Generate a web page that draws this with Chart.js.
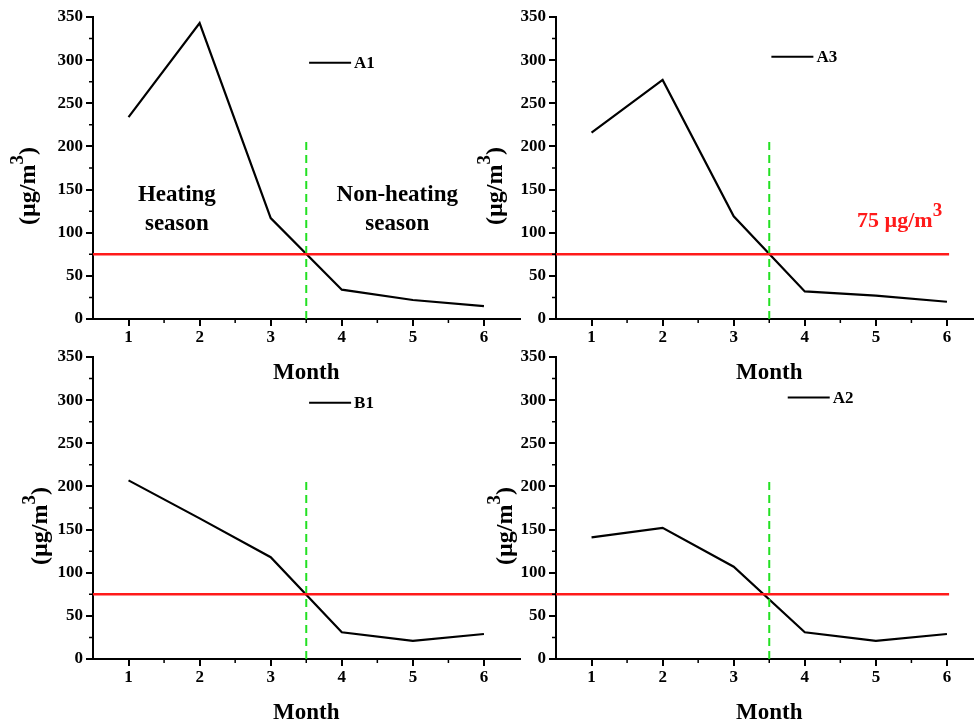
<!DOCTYPE html>
<html>
<head>
<meta charset="utf-8">
<script src="https://cdn.jsdelivr.net/npm/chart.js@4.4.1/dist/chart.umd.min.js"></script>
<style>
  body { margin: 0; background: #fff; width: 974px; height: 722px; overflow: hidden; position: relative; }
  canvas { position: absolute; }
</style>
</head>
<body>
<canvas id="pA1" width="560" height="389" style="left:0;top:0"></canvas>
<canvas id="pA3" width="560" height="389" style="left:463px;top:0"></canvas>
<canvas id="pB1" width="560" height="389" style="left:0;top:340px"></canvas>
<canvas id="pA2" width="560" height="389" style="left:463px;top:340px"></canvas>
<script>
// monthly concentrations (µg/m3)
const months = [1, 2, 3, 4, 5, 6];
const a1 = [234, 343, 117, 34, 22, 15];
const a3 = [216, 277, 119, 32, 27, 20];
const b1 = [207, 163, 118, 31, 21, 29];
const a2 = [141, 152, 107, 31, 21, 29];

const yTicks = [0, 50, 100, 150, 200, 250, 300, 350];
const xMinor = [1.5, 2.5, 3.5, 4.5, 5.5];
const yMinor = [25, 75, 125, 175, 225, 275, 325];

const limit = 75;     // standard, red line
const split = 3.5;    // heating / non-heating boundary

const FAMILY = '"Liberation Serif", "Times New Roman", serif';
const bold = s => 'bold ' + s + 'px ' + FAMILY;

const panels = [
  { id: 'pA1', name: 'A1', values: a1, redTo: 7.02, greenTop: 211, legend: [3.54, 297], titleGap: 58, seasons: true },
  { id: 'pA3', name: 'A3', values: a3, redTo: 6.03, greenTop: 207, legend: [3.53, 304], titleGap: 54, limitLabel: true },
  { id: 'pB1', name: 'B1', values: b1, redTo: 7.02, greenTop: 207, legend: [3.54, 297], titleGap: 46 },
  { id: 'pA2', name: 'A2', values: a2, redTo: 6.03, greenTop: 205, legend: [3.76, 303], titleGap: 44 }
];

// text with a raised "3"
function supText(ctx, x, y, size, main, sup, tail, align, ratio) {
  const supSize = Math.round(size * ratio);
  ctx.font = bold(size);
  const w1 = ctx.measureText(main).width;
  const w3 = tail ? ctx.measureText(tail).width : 0;
  ctx.font = bold(supSize);
  const w2 = ctx.measureText(sup).width;
  const sx = align === 'center' ? x - (w1 + w2 + w3) / 2 : x;
  ctx.textAlign = 'left';
  ctx.textBaseline = 'alphabetic';
  ctx.font = bold(size);
  ctx.fillText(main, sx, y);
  ctx.font = bold(supSize);
  ctx.fillText(sup, sx + w1, y - size * 0.5);
  if (tail) {
    ctx.font = bold(size);
    ctx.fillText(tail, sx + w1 + w2, y);
  }
}

function extras(panel) {
  return {
    id: 'extras',
    afterDraw(chart) {
      const { ctx, chartArea: area, scales: { x, y } } = chart;
      ctx.save();
      // minor ticks
      ctx.strokeStyle = '#000';
      ctx.lineWidth = 1.5;
      ctx.beginPath();
      xMinor.forEach(v => {
        const px = x.getPixelForValue(v);
        ctx.moveTo(px, area.bottom);
        ctx.lineTo(px, area.bottom + 4);
      });
      yMinor.forEach(v => {
        const py = y.getPixelForValue(v);
        ctx.moveTo(area.left - 4, py);
        ctx.lineTo(area.left, py);
      });
      ctx.stroke();

      // legend
      const lx = x.getPixelForValue(panel.legend[0]);
      const ly = y.getPixelForValue(panel.legend[1]);
      ctx.lineWidth = 2;
      ctx.beginPath();
      ctx.moveTo(lx, ly);
      ctx.lineTo(lx + 42, ly);
      ctx.stroke();
      ctx.fillStyle = '#000';
      ctx.font = bold(17);
      ctx.textAlign = 'left';
      ctx.textBaseline = 'middle';
      ctx.fillText(panel.name, lx + 45, ly + 1);

      // y title
      ctx.save();
      ctx.translate(area.left - panel.titleGap, (area.top + area.bottom) / 2 + 18);
      ctx.rotate(-Math.PI / 2);
      supText(ctx, 0, 0, 24, '(\u00b5g/m', '3', ')', 'center', 0.8);
      ctx.restore();

      if (panel.seasons) {
        ctx.font = bold(23);
        ctx.textAlign = 'center';
        ctx.textBaseline = 'middle';
        const hx = x.getPixelForValue(1.68), nx = x.getPixelForValue(4.78);
        const y1 = y.getPixelForValue(143.7), y2 = y.getPixelForValue(110.1);
        ctx.fillText('Heating', hx, y1);
        ctx.fillText('season', hx, y2);
        ctx.fillText('Non-heating', nx, y1);
        ctx.fillText('season', nx, y2);
      }
      if (panel.limitLabel) {
        ctx.fillStyle = '#ff1a1a';
        supText(ctx, x.getPixelForValue(4.735), y.getPixelForValue(106.6), 22, '75 \u00b5g/m', '3', '', 'left', 0.85);
      }
      ctx.restore();
    }
  };
}

const tickFont = { family: FAMILY, size: 17, weight: 'bold' };

panels.forEach(panel => {
  new Chart(document.getElementById(panel.id), {
    type: 'line',
    data: {
      datasets: [
        {
          data: [{ x: 0.5, y: limit }, { x: panel.redTo, y: limit }],
          borderColor: '#ff1a1a', borderWidth: 2.5, pointRadius: 0, clip: false
        },
        {
          data: [{ x: split, y: 0 }, { x: split, y: panel.greenTop }],
          borderColor: '#22e022', borderWidth: 2, borderDash: [8, 5], pointRadius: 0
        },
        {
          data: months.map((m, i) => ({ x: m, y: panel.values[i] })),
          borderColor: '#000', borderWidth: 2.2, pointRadius: 0, tension: 0
        }
      ]
    },
    options: {
      responsive: false,
      animation: false,
      layout: { padding: { top: 17, right: 40.5, left: 0, bottom: 0 } },
      plugins: { legend: { display: false }, tooltip: { enabled: false } },
      scales: {
        x: {
          type: 'linear', min: 0.5, max: 6.5,
          afterBuildTicks: s => { s.ticks = months.map(v => ({ value: v })); },
          afterFit: s => { s.height = 70; },
          border: { display: true, color: '#000', width: 2 },
          grid: { drawOnChartArea: false, color: '#000', lineWidth: 2, tickLength: 7 },
          ticks: { font: tickFont, color: '#000', padding: 1, maxRotation: 0, autoSkip: false },
          title: { display: true, text: 'Month', color: '#000', font: { family: FAMILY, size: 23, weight: 'bold' }, padding: { top: 0, bottom: 2 } }
        },
        y: {
          type: 'linear', min: 0, max: 350,
          afterBuildTicks: s => { s.ticks = yTicks.map(v => ({ value: v })); },
          afterFit: s => { s.width = 93; },
          border: { display: true, color: '#000', width: 2 },
          grid: { drawOnChartArea: false, color: '#000', lineWidth: 2, tickLength: 7 },
          ticks: { font: tickFont, color: '#000', padding: 3 }
        }
      }
    },
    plugins: [extras(panel)]
  });
});
</script>
</body>
</html>
